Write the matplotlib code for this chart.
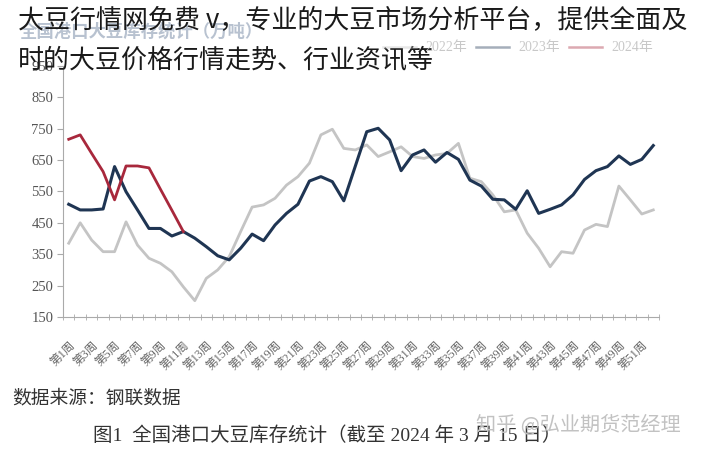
import numpy as np
import matplotlib.pyplot as plt
from matplotlib.ticker import FixedLocator

# weekly port soybean stocks (10k tonnes)
weeks = [f'第{i}周' for i in range(1, 53)]
stock_2022 = [385, 450, 395, 358, 358, 453, 379, 337, 321, 294,
              246, 202, 273, 300, 342, 422, 500, 507, 528, 570,
              597, 640, 730, 748, 687, 682, 698, 661, 676, 692,
              661, 655, 666, 671, 703, 592, 581, 539, 485, 491,
              417, 369, 310, 358, 353, 427, 445, 438, 567, 523,
              478, 491]
stock_2023 = [509, 491, 491, 494, 629, 549, 491, 432, 432, 408,
              422, 401, 374, 345, 332, 369, 414, 393, 443, 480,
              509, 583, 597, 581, 520, 630, 740, 751, 714, 616,
              666, 682, 643, 674, 652, 586, 567, 525, 523, 493,
              552, 480, 493, 507, 539, 588, 616, 629, 663, 636,
              652, 696]
stock_2024 = [716, 730, 671, 613, 523, 631, 631, 625, 557, 490, 422]
series_names = ['2022年', '2023年', '2024年']
y_ticks = [150, 250, 350, 450, 550, 650, 750, 850, 950]

serif_cjk = ['Liberation Serif', 'Noto Sans CJK SC']
plt.rcParams['font.family'] = ['Noto Sans CJK SC', 'DejaVu Sans']

fig = plt.figure(figsize=(7.01, 4.53), dpi=100)
ax = fig.add_axes([63 / 701, 1 - 317 / 453, 596 / 701, (317 - 65.8) / 453])

x = np.arange(len(weeks))
l22, = ax.plot(x, stock_2022, color='#c4c4c4', lw=2.0)
l23, = ax.plot(x, stock_2023, color='#1f3553', lw=2.2)
l24, = ax.plot(x[:len(stock_2024)], stock_2024, color='#a8283c', lw=2.0)

ax.set_xlim(-0.5, len(weeks) - 0.5)
ax.set_ylim(150, 950)
ax.set_yticks(y_ticks)
ax.set_yticklabels([str(v) for v in y_ticks], family='Liberation Serif',
                   fontsize=10.5, color='#555555')

ax.xaxis.set_major_locator(FixedLocator(x[::2]))
ax.set_xticklabels(weeks[::2], rotation=45, ha='right', va='top',
                   rotation_mode='anchor', family=serif_cjk,
                   fontsize=8.5, color='#666666')
ax.xaxis.set_minor_locator(FixedLocator(np.arange(-0.5, len(weeks), 1.0)))
ax.tick_params(axis='x', which='major', length=0, pad=16)
ax.tick_params(axis='x', which='minor', length=4, direction='inout', color='#aaaaaa')
ax.tick_params(axis='y', length=4, color='#aaaaaa', pad=3)

for s in ['top', 'right']:
    ax.spines[s].set_visible(False)
for s in ['left', 'bottom']:
    ax.spines[s].set_color('#aaaaaa')

# faded header of the original figure
fig.text(20 / 701, 1 - 32 / 453, '全国港口大豆库存统计（万吨）', fontsize=12.5,
         weight='bold', color='#b8c2d0', va='center')
leg = fig.legend([l22, l23, l24], series_names, loc='center',
                 bbox_to_anchor=(518 / 701, 1 - 48 / 453), ncol=3, frameon=False,
                 handlelength=2.4, handletextpad=0.7, columnspacing=0.6,
                 prop={'family': serif_cjk, 'size': 10})
for line in leg.get_lines():
    line.set_alpha(0.4)
    line.set_linewidth(1.8)
for t in leg.get_texts():
    t.set_color('#c8c8c8')

# overlay title text
fig.text(18 / 701, 1 - 21 / 453, '大豆行情网免费 v，专业的大豆市场分析平台，提供全面及',
         fontsize=18.7, weight='light', color='#1a1a1a', va='center')
fig.text(18 / 701, 1 - 60 / 453, '时的大豆价格行情走势、行业资讯等',
         fontsize=18.7, weight='light', color='#1a1a1a', va='center')

# notes under the chart
fig.text(12 / 701, 1 - 398 / 453, '数据来源：钢联数据', fontsize=13.5,
         color='#333333', va='center')
fig.text(93 / 701, 1 - 435 / 453, '图1  全国港口大豆库存统计（截至 2024 年 3 月 15 日）',
         fontsize=14, color='#333333', va='center', family=serif_cjk)
fig.text(476 / 701, 1 - 425 / 453, '知乎 @弘业期货范经理', fontsize=14.5,
         color='#c2c2c2', va='center')

fig.savefig('out.png', dpi=100, facecolor='white')
